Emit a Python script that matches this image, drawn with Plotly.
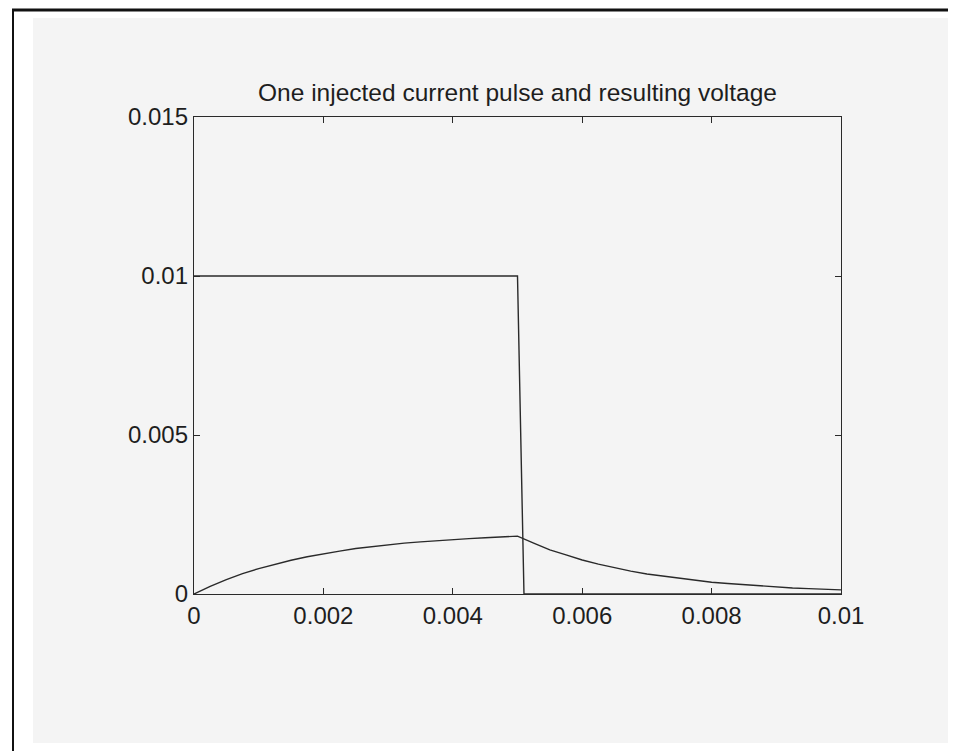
import plotly.graph_objects as go

# Data
t_current = [0.0, 0.005, 0.0051, 0.01]
i_current = [0.01, 0.01, 0.0, 0.0]

t_voltage = [0.0, 0.00025, 0.0005, 0.00075, 0.001, 0.00125, 0.0015, 0.00175, 0.002, 0.00225,
             0.0025, 0.00275, 0.003, 0.00325, 0.0035, 0.00375, 0.004, 0.00425, 0.0045, 0.00475,
             0.005, 0.00525, 0.0055, 0.00575, 0.006, 0.00625, 0.0065, 0.00675, 0.007, 0.00725,
             0.0075, 0.00775, 0.008, 0.00825, 0.0085, 0.00875, 0.009, 0.00925, 0.0095, 0.00975, 0.01]
v_voltage = [0.0, 0.00024, 0.00045, 0.00064, 0.0008, 0.00094, 0.00106, 0.00117, 0.00127, 0.00135,
             0.00143, 0.00149, 0.00155, 0.0016, 0.00164, 0.00168, 0.00171, 0.00174, 0.00177, 0.00179,
             0.00182, 0.0016, 0.00139, 0.00123, 0.00107, 0.00094, 0.00082, 0.00072, 0.00063, 0.00056,
             0.00049, 0.00043, 0.00037, 0.00033, 0.00029, 0.00025, 0.00022, 0.00019, 0.00017, 0.00015, 0.00013]

x_ticks = [0, 0.002, 0.004, 0.006, 0.008, 0.01]
x_labels = ["0", "0.002", "0.004", "0.006", "0.008", "0.01"]
y_ticks = [0, 0.005, 0.01, 0.015]
y_labels = ["0", "0.005", "0.01", "0.015"]

title_text = "One injected current pulse and resulting voltage"

W, H = 956, 751
OFF = 8  # page body margin offset
L, R, T, B = 194 - OFF, 841 - OFF, 117 - OFF, 594 - OFF
pw, ph = R - L, B - T

def px(x):
    return (x - OFF - L) / pw

def py(y):
    return (B - (y - OFF)) / ph

line_col = "#2a2a2a"
font_fam = "Liberation Sans, Arial, sans-serif"

fig = go.Figure()
fig.add_trace(go.Scatter(x=t_current, y=i_current, mode="lines",
                         line=dict(color=line_col, width=1.4), hoverinfo="skip"))
fig.add_trace(go.Scatter(x=t_voltage, y=v_voltage, mode="lines",
                         line=dict(color=line_col, width=1.4), hoverinfo="skip"))

shapes = [
    # grey scanned page area
    dict(type="rect", xref="paper", yref="paper", x0=px(33), x1=px(953), y0=py(743), y1=py(18),
         fillcolor="#f4f4f4", line=dict(width=0), layer="below"),
    # outer border lines
    dict(type="line", xref="paper", yref="paper", x0=px(12), x1=px(970), y0=py(10), y1=py(10),
         line=dict(color="#111111", width=3)),
    dict(type="line", xref="paper", yref="paper", x0=px(13), x1=px(13), y0=py(9), y1=py(770),
         line=dict(color="#111111", width=2)),
]

axis_common = dict(showline=True, mirror="ticks", linecolor=line_col, linewidth=1.3,
                   ticks="inside", ticklen=6, tickcolor=line_col, tickwidth=1,
                   showgrid=False, zeroline=False,
                   tickfont=dict(family=font_fam, size=24, color="#1e1e1e"))

fig.update_layout(
    width=W, height=H,
    margin=dict(l=L, r=W - R, t=T, b=H - B),
    paper_bgcolor="white",
    plot_bgcolor="#f4f4f4",
    showlegend=False,
    shapes=shapes,
    xaxis=dict(range=[0, 0.01], tickvals=x_ticks, ticktext=x_labels, **axis_common),
    yaxis=dict(range=[0, 0.015], tickvals=y_ticks, ticktext=y_labels, **axis_common),
    title=dict(text=title_text, x=(517.5 - OFF) / W, xanchor="center", y=1 - (92 - OFF) / H,
               yanchor="middle", font=dict(family=font_fam, size=24.5, color="#1e1e1e")),
)

fig.write_html("out.html")
